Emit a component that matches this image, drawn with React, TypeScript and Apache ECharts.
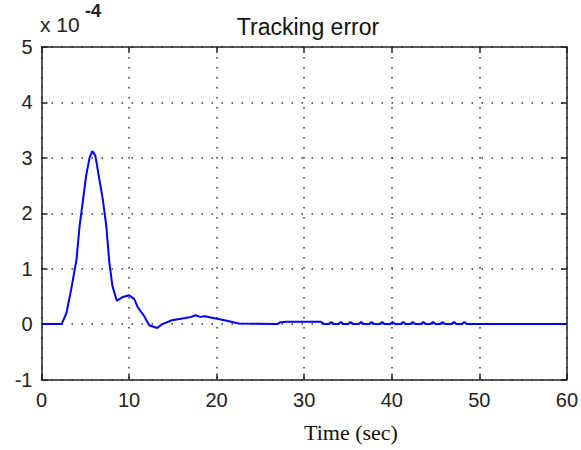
import React, { useEffect, useRef } from "react";
import * as echarts from "echarts";

const titleText = "Tracking error";
const xAxisName = "Time (sec)";
const xTicks = [0, 10, 20, 30, 40, 50, 60];
const yTicks = [-1, 0, 1, 2, 3, 4, 5];

// time (s) and tracking error (x 1e-4)
const timeValues = [
  0, 2.3, 2.85, 3.4, 4.0, 4.35, 4.75, 5.1, 5.5, 5.8, 6.15, 6.6, 7.0, 7.4, 7.75, 8.1, 8.6, 9.3, 10.0,
  10.6, 11.0, 11.7, 12.3, 13.2, 13.8, 14.9, 16.4, 17.1, 17.6, 18.1, 18.7, 19.3, 20.2, 21.3, 22.5,
  27.0, 27.2, 27.9, 31.9, 32.3,
  32.8, 33.1, 33.4, 33.9, 34.2, 34.5, 35.0, 35.3, 35.6, 36.2, 36.5, 36.8, 37.4, 37.7, 38.0,
  38.6, 38.9, 39.2, 39.8, 40.1, 40.4, 41.0, 41.3, 41.6, 42.1, 42.4, 42.7, 43.3, 43.6, 43.9,
  44.4, 44.7, 45.0, 45.5, 45.8, 46.1, 46.8, 47.1, 47.4, 48.0, 48.3, 48.6, 60,
];
const errorValues = [
  0, 0, 0.2, 0.63, 1.17, 1.77, 2.25, 2.68, 3.01, 3.12, 3.04, 2.62, 2.25, 1.77, 1.11, 0.69, 0.42, 0.49, 0.52,
  0.45, 0.3, 0.15, -0.02, -0.07, 0.0, 0.07, 0.11, 0.13, 0.16, 0.13, 0.14, 0.12, 0.09, 0.055, 0.01,
  0, 0.03, 0.04, 0.04, 0,
  0, 0.035, 0, 0, 0.035, 0, 0, 0.035, 0, 0, 0.035, 0, 0, 0.035, 0,
  0, 0.035, 0, 0, 0.035, 0, 0, 0.035, 0, 0, 0.035, 0, 0, 0.035, 0,
  0, 0.035, 0, 0, 0.035, 0, 0, 0.035, 0, 0, 0.035, 0, 0,
];

const seriesData = timeValues.map((t, i) => [t, errorValues[i]]);

export default function App() {
  const ref = useRef<HTMLDivElement>(null);
  useEffect(() => {
    if (!ref.current) return;
    const chart = echarts.init(ref.current, null, { renderer: "svg" });
    const axisColor = "#222";
    const labelFont = { fontFamily: "Liberation Sans", fontSize: 20, color: "#222" };
    const grid = { left: 41.5, right: 10, top: 47, bottom: 70.5 };
    const dotted = { type: [1.5, 8.5] as any, width: 1.5, color: "#333" };
    chart.setOption({
      animation: false,
      backgroundColor: "#fff",
      grid,
      title: {
        text: titleText,
        left: 303,
        top: 10,
        textAlign: "center",
        textStyle: { fontFamily: "Liberation Sans", fontSize: 23, fontWeight: "normal", color: "#111" },
      },
      graphic: [
        {
          type: "text",
          left: 40,
          top: 14,
          style: { text: "x 10", font: "21px 'Liberation Sans'", fill: "#222" },
        },
        {
          type: "text",
          left: 85,
          top: 2,
          style: { text: "-4", font: "bold 18px 'Liberation Sans'", fill: "#222" },
        },
        {
          type: "text",
          left: 304,
          top: 421,
          style: { text: xAxisName, font: "22px 'Liberation Serif'", fill: "#111", textAlign: "center" },
        },
      ],
      xAxis: [
        {
          type: "value",
          min: xTicks[0],
          max: xTicks[xTicks.length - 1],
          interval: 10,
          axisLine: { show: true, onZero: false, lineStyle: { color: axisColor, width: 1.5 } },
          axisTick: { show: true, inside: true, length: 6, lineStyle: { color: axisColor, width: 1.5 } },
          axisLabel: { ...labelFont, margin: 10 },
          splitLine: { show: true, lineStyle: dotted },
        },
        {
          type: "value",
          position: "top",
          min: xTicks[0],
          max: xTicks[xTicks.length - 1],
          interval: 10,
          axisLine: { show: true, onZero: false, lineStyle: { color: axisColor, width: 1.5 } },
          axisTick: { show: true, inside: true, length: 6, lineStyle: { color: axisColor, width: 1.5 } },
          axisLabel: { show: false },
          splitLine: { show: false },
        },
      ],
      yAxis: [
        {
          type: "value",
          min: yTicks[0],
          max: yTicks[yTicks.length - 1],
          interval: 1,
          axisLine: { show: true, onZero: false, lineStyle: { color: axisColor, width: 1.5 } },
          axisTick: { show: true, inside: true, length: 6, lineStyle: { color: axisColor, width: 1.5 } },
          axisLabel: { ...labelFont, margin: 9 },
          splitLine: { show: true, lineStyle: dotted },
        },
        {
          type: "value",
          position: "right",
          min: yTicks[0],
          max: yTicks[yTicks.length - 1],
          interval: 1,
          axisLine: { show: true, onZero: false, lineStyle: { color: axisColor, width: 1.5 } },
          axisTick: { show: true, inside: true, length: 6, lineStyle: { color: axisColor, width: 1.5 } },
          axisLabel: { show: false },
          splitLine: { show: false },
        },
      ],
      series: [
        {
          type: "line",
          data: seriesData,
          showSymbol: false,
          symbol: "none",
          lineStyle: { color: "#0000ff", width: 2 },
          z: 3,
        },
      ],
    });
    return () => chart.dispose();
  }, []);
  return <div ref={ref} style={{ width: 581, height: 450, position: "absolute", left: 0, top: 0 }} />;
}
